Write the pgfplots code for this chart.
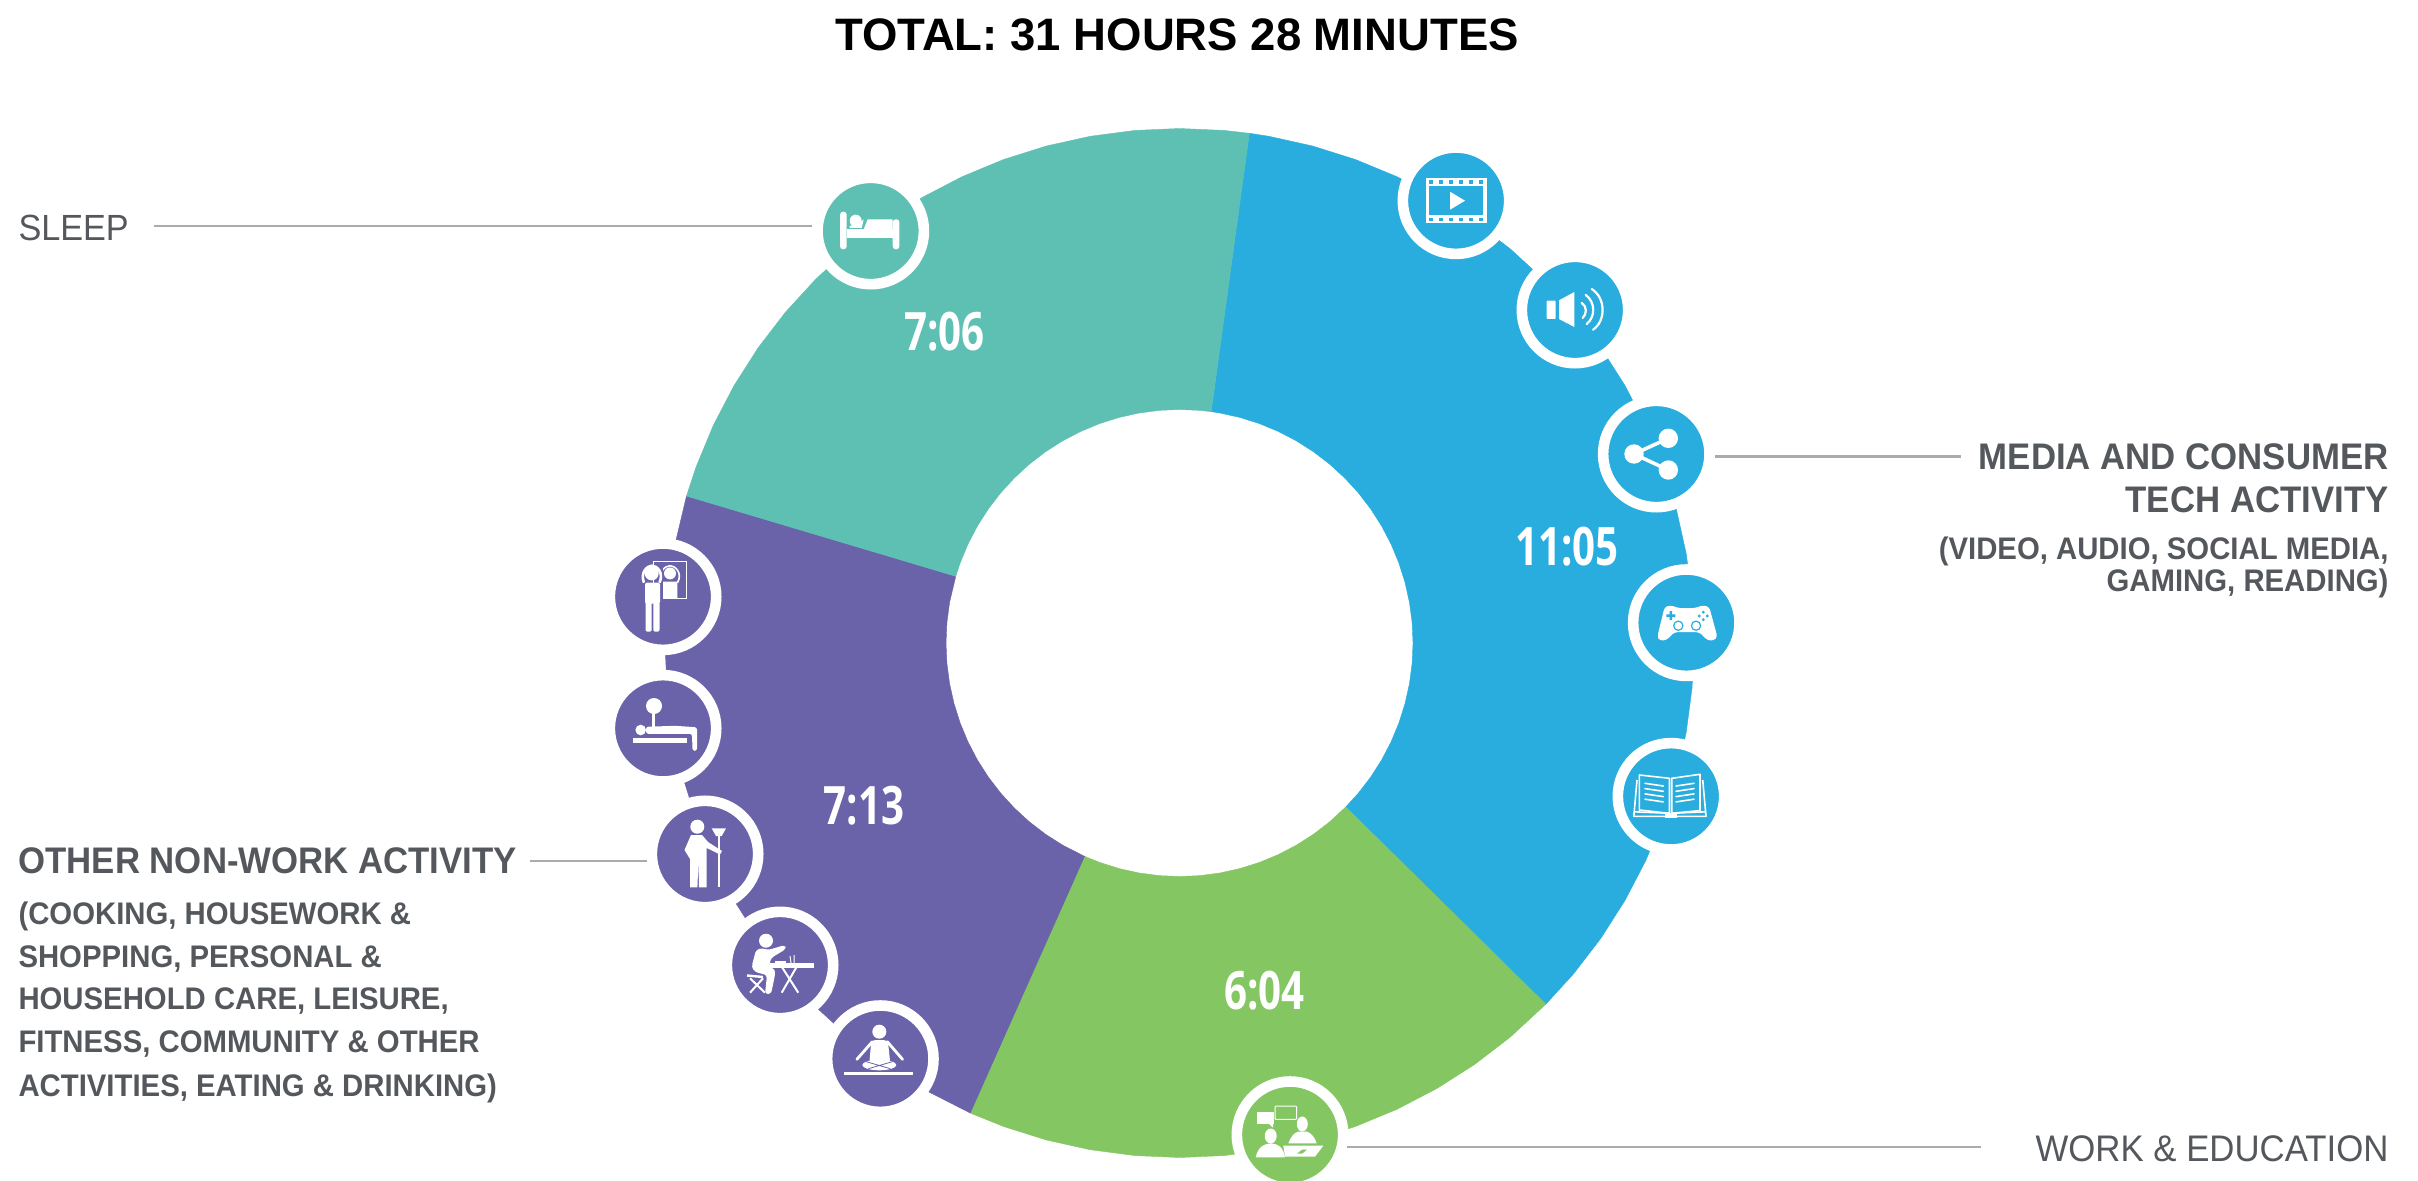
\documentclass[border=0pt]{standalone}
\usepackage{fontspec}
\usepackage{pgfplots}
\pgfplotsset{compat=1.18}
\setmainfont{Liberation Sans}
\newfontfamily\numf[FakeStretch=0.76]{Open Sans}
\newfontfamily\labf[FakeStretch=0.94]{Liberation Sans}
\definecolor{cmedia}{HTML}{29ADDE}
\definecolor{cwork}{HTML}{84C661}
\definecolor{cother}{HTML}{6A63A9}
\definecolor{csleep}{HTML}{5DC0B2}
\definecolor{ctext}{HTML}{54585C}
\definecolor{cline}{HTML}{ABABAB}
\newcommand{\ringplot}[2]{\addplot[only marks,mark=*,mark size=26.6pt,mark options={draw=white,fill=#1,line width=5.3pt}] coordinates {#2};}
\begin{document}
\begin{tikzpicture}
\useasboundingbox (0,0) rectangle (1209pt,590pt);
\clip (0,0) rectangle (1209pt,590pt);
\begin{axis}[at={(0,0)},anchor=south west,scale only axis,width=1209pt,height=590pt,
  hide axis,xmin=-1179.5,xmax=1238.5,ymin=-537,ymax=643,clip=false]
% media and consumer tech: 11:05
\addplot[data cs=polar,fill=cmedia,draw=cmedia,line width=.2pt,no markers] coordinates {
(82.2,514.5)(80,514.5)(75,514.5)(70,514.5)(65,514.5)(60,514.5)(55,514.5)(50,514.5)(45,514.5)(40,514.5)(35,514.5)(30,514.5)(25,514.5)(20,514.5)(15,514.5)(10,514.5)(5,514.5)(0,514.5)(-5,514.5)(-10,514.5)(-15,514.5)(-20,514.5)(-25,514.5)(-30,514.5)(-35,514.5)(-40,514.5)(-44.6,514.5)
(-44.6,233.5)(-40,233.5)(-35,233.5)(-30,233.5)(-25,233.5)(-20,233.5)(-15,233.5)(-10,233.5)(-5,233.5)(0,233.5)(5,233.5)(10,233.5)(15,233.5)(20,233.5)(25,233.5)(30,233.5)(35,233.5)(40,233.5)(45,233.5)(50,233.5)(55,233.5)(60,233.5)(65,233.5)(70,233.5)(75,233.5)(80,233.5)(82.2,233.5)} --cycle;
% work and education: 6:04
\addplot[data cs=polar,fill=cwork,draw=cwork,line width=.2pt,no markers] coordinates {
(-44.6,514.5)(-50,514.5)(-55,514.5)(-60,514.5)(-65,514.5)(-70,514.5)(-75,514.5)(-80,514.5)(-85,514.5)(-90,514.5)(-95,514.5)(-100,514.5)(-105,514.5)(-110,514.5)(-114,514.5)
(-114,233.5)(-110,233.5)(-105,233.5)(-100,233.5)(-95,233.5)(-90,233.5)(-85,233.5)(-80,233.5)(-75,233.5)(-70,233.5)(-65,233.5)(-60,233.5)(-55,233.5)(-50,233.5)(-44.6,233.5)} --cycle;
% other non-work: 7:13
\addplot[data cs=polar,fill=cother,draw=cother,line width=.2pt,no markers] coordinates {
(-114,514.5)(-120,514.5)(-125,514.5)(-130,514.5)(-135,514.5)(-140,514.5)(-145,514.5)(-150,514.5)(-155,514.5)(-160,514.5)(-165,514.5)(-170,514.5)(-175,514.5)(-180,514.5)(-185,514.5)(-190,514.5)(-196.6,514.5)
(-196.6,233.5)(-190,233.5)(-185,233.5)(-180,233.5)(-175,233.5)(-170,233.5)(-165,233.5)(-160,233.5)(-155,233.5)(-150,233.5)(-145,233.5)(-140,233.5)(-135,233.5)(-130,233.5)(-125,233.5)(-120,233.5)(-114,233.5)} --cycle;
% sleep: 7:06
\addplot[data cs=polar,fill=csleep,draw=csleep,line width=.2pt,no markers] coordinates {
(-196.6,514.5)(-200,514.5)(-205,514.5)(-210,514.5)(-215,514.5)(-220,514.5)(-225,514.5)(-230,514.5)(-235,514.5)(-240,514.5)(-245,514.5)(-250,514.5)(-255,514.5)(-260,514.5)(-265,514.5)(-270,514.5)(-275,514.5)(-277.8,514.5)
(-277.8,233.5)(-275,233.5)(-270,233.5)(-265,233.5)(-260,233.5)(-255,233.5)(-250,233.5)(-245,233.5)(-240,233.5)(-235,233.5)(-230,233.5)(-225,233.5)(-220,233.5)(-215,233.5)(-210,233.5)(-205,233.5)(-200,233.5)(-196.6,233.5)} --cycle;
\ringplot{cmedia}{(276.5,442.3)(395.5,333)(476.8,189)(506.8,20.3)(491.5,-153.3)}
\ringplot{cother}{(-516.5,46.3)(-516.5,-85.3)(-474.5,-211)(-399.5,-322)(-299.2,-415.7)}
\ringplot{cwork}{(110.5,-491.7)}
\ringplot{csleep}{(-308.8,412)}
\end{axis}
\begin{scope}[shift={(0,590pt)},x=.5pt,y=-.5pt,every node/.style={inner sep=0pt,outer sep=0pt}]
% leaders
\draw[cline,line width=1.4pt] (154,226)--(812,226);
\draw[cline,line width=1.4pt] (1715,456.5)--(1961,456.5);
\draw[cline,line width=1.4pt] (530,861)--(647,861);
\draw[cline,line width=1.4pt] (1347,1147)--(1981,1147);
% title
\node[anchor=base] at (1177,50.5) {\fontsize{22.75}{23}\selectfont\bfseries TOTAL: 31 HOURS 28 MINUTES};
% labels
\node[anchor=base west,text=ctext] at (18.5,241) {\fontsize{18.2}{18}\labf SLEEP};
\node[anchor=base east,text=ctext] at (2388.5,1161) {\fontsize{18.5}{18}\labf WORK \& EDUCATION};
\node[anchor=base east,text=ctext] at (2388.5,469) {\fontsize{18.5}{18}\labf\bfseries MEDIA AND CONSUMER};
\node[anchor=base east,text=ctext] at (2388.5,512) {\fontsize{18.5}{18}\labf\bfseries TECH ACTIVITY};
\node[anchor=base east,text=ctext] at (2388.5,559) {\fontsize{15.6}{18}\labf\bfseries (VIDEO, AUDIO, SOCIAL MEDIA,};
\node[anchor=base east,text=ctext] at (2388.5,591) {\fontsize{15.6}{18}\labf\bfseries GAMING, READING)};
\node[anchor=base west,text=ctext] at (18.5,873) {\fontsize{18.5}{18}\labf\bfseries OTHER NON-WORK ACTIVITY};
\node[anchor=base west,text=ctext] at (18.5,924) {\fontsize{15.6}{18}\labf\bfseries (COOKING, HOUSEWORK \&};
\node[anchor=base west,text=ctext] at (18.5,967) {\fontsize{15.6}{18}\labf\bfseries SHOPPING, PERSONAL \&};
\node[anchor=base west,text=ctext] at (18.5,1009) {\fontsize{15.6}{18}\labf\bfseries HOUSEHOLD CARE, LEISURE,};
\node[anchor=base west,text=ctext] at (18.5,1052) {\fontsize{15.6}{18}\labf\bfseries FITNESS, COMMUNITY \& OTHER};
\node[anchor=base west,text=ctext] at (18.5,1096) {\fontsize{15.6}{18}\labf\bfseries ACTIVITIES, EATING \& DRINKING)};
% numbers
\node[text=white] at (944.5,332) {\fontsize{26.5}{27}\numf\bfseries 7:06};
\node[text=white] at (1567,546.5) {\fontsize{26.5}{27}\numf\bfseries 11:05};
\node[text=white] at (864,805.5) {\fontsize{26.5}{27}\numf\bfseries 7:13};
\node[text=white] at (1264.5,990.5) {\fontsize{26.5}{27}\numf\bfseries 6:04};
% --- icons (pixel units, centre of each ring)
% video
\begin{scope}[shift={(1456,200.7)}]
\fill[white] (-30.5,-22.5) rectangle (30.5,22.5);
\fill[cmedia] (-27,-14.5) rectangle (27,14.5);
\foreach \x in {-25,-15,-5,5,15,25} {\fill[cmedia] (\x-2,-20.3) rectangle (\x+2,-17); \fill[cmedia] (\x-2,17) rectangle (\x+2,20.3);}
\fill[white] (-6,-9)--(9,0)--(-6,9)--cycle;
\end{scope}
% audio
\begin{scope}[shift={(1575,310)}]
\fill[white,rounded corners=.4pt] (-28.3,-9.3) rectangle (-19.3,9);
\fill[white] (-16,-9.7)--(-.7,-18)--(-.7,17)--(-16,9)--cycle;
\draw[white,line width=1.1pt,line cap=round] (6.7,-7) .. controls (12,-4) and (12,4) .. (7.7,8);
\draw[white,line width=1.1pt,line cap=round] (10.7,-15) .. controls (20.5,-8) and (20.5,7) .. (11.7,14);
\draw[white,line width=1.1pt,line cap=round] (16.7,-21) .. controls (31,-12) and (31,11) .. (18,19.7);
\end{scope}
% share
\begin{scope}[shift={(1656.3,454)}]
\draw[white,line width=1.8pt] (12,-15.7)--(-22.3,0)--(12,16);
\fill[white] (12,-15.7) circle[radius=9.7] (12,16) circle[radius=9.7] (-22.3,0) circle[radius=9.7];
\end{scope}
% gamepad
\begin{scope}[shift={(1686.3,622.7)}]
\fill[white,rounded corners=1.5pt] (-26.5,18)--(-29,14)--(-21.8,-15.5)--(-16.3,-17.5)--(-7,-14.5)--(8,-14.5)--(17,-17.5)--(23,-15.5)--(31,14)--(27.5,18)--(21,17.5)--(13,9.5)--(-12,9.5)--(-20,17.5)--cycle;
\fill[cmedia] (-16.8,-11.5) rectangle (-14.2,-2.5) (-20,-8.3) rectangle (-11,-5.7);
\fill[cmedia] (17,-10.5) circle[radius=1.6] (17,-3) circle[radius=1.6] (13,-6.7) circle[radius=1.6] (21,-6.7) circle[radius=1.6];
\draw[cmedia,line width=.6pt,fill=white] (-8,3) circle[radius=4.6] (9.7,3) circle[radius=4.6];
\end{scope}
% book
\begin{scope}[shift={(1671,796.3)},line join=round]
\draw[white,line width=.8pt] (-34,-16.3)--(-37.2,20)--(35,20)--(31.7,-16.3);
\draw[white,line width=.8pt] (-37,15.5)--(-1.7,17) (35,15.5)--(.7,17);
\draw[white,line width=.8pt] (-1.7,17)--(-1.7,-18)--(-31.7,-21.3)--(-31.7,13.7)--(-1.7,17) (.7,17)--(.7,-18)--(29,-22)--(29,14.3)--(.7,17);
\foreach \d in {0,5.3,10.6,15.9} {
\draw[white,line width=.8pt,line cap=round] (-26,-13+\d)--(-7.7,-10.3+\d) (5,-10.3+\d)--(23,-13+\d);}
\fill[white] (-6,17) rectangle (6,21.5);
\end{scope}
% mirror
\begin{scope}[shift={(663,596.7)}]
\draw[white,line width=.5pt] (-9.7,-35) rectangle (23,1.7);
\fill[white] (7,-23.3) circle[radius=6] (-.3,-15) rectangle (14.3,1.7);
\draw[white,line width=.8pt] (-.5,-14) .. controls (-6,-24) and (2,-31) .. (7,-31) .. controls (12,-31) and (20,-24) .. (14.5,-14);
\fill[cother] (-7,-33) rectangle (0,10);
\fill[white] (-11.3,-23.3) circle[radius=7];
\draw[white,line width=1.3pt] (-19,-14) .. controls (-23,-24) and (-16,-31) .. (-11,-31) .. controls (-6,-31) and (1,-24) .. (-3.5,-14);
\fill[white,rounded corners=1pt] (-18,-14) rectangle (-3,7);
\fill[white,rounded corners=1pt] (-17.5,5) rectangle (-11.3,35) (-9.7,5) rectangle (-3.5,35);
\end{scope}
% massage
\begin{scope}[shift={(663,728.3)}]
\fill[white] (-9,-22.3) circle[radius=8] (-22.3,1.7) circle[radius=5.3];
\fill[white] (-11.5,-16) rectangle (-8,2);
\fill[white,rounded corners=1.2pt] (-17,-1.5)--(12,-2.5)--(34,-1)--(34,22.5)--(29.5,22.5)--(29,5.5)--(-17,5.5)--cycle;
\fill[white] (-29.7,10) rectangle (23.7,14.3);
\end{scope}
% broom
\begin{scope}[shift={(705,854)}]
\fill[white] (-7.7,-27.3) circle[radius=7];
\fill[white] (-14,-19)--(-3,-19)--(3,-12)--(17,-3)--(15,.5)--(1.7,-6)--(1.7,33.3)--(-6,33.3)--(-6.6,8)--(-7.6,33.3)--(-15,33.3)--(-15,5)--(-20.5,-4)--cycle;
\fill[white] (13,-20) rectangle (15,32.7);
\fill[white] (6.7,-25.7)--(21,-25.7)--(16.7,-18)--(11,-18)--cycle;
\end{scope}
% eating
\begin{scope}[shift={(780,965)}]
\fill[white] (-14,-24.3) circle[radius=7];
\fill[white,rounded corners=1.5pt] (-28.5,2)--(-24,-15)--(-18,-17)--(-12,-15)--(5,-20)--(6,-16)--(-9,-7)--(-11,2)--(-5,4)--(-5,10)--(-9,29)--(-15,29)--(-13,10)--(-25,7)--cycle;
\fill[white] (-10,-1.7) rectangle (34.3,2.7);
\fill[white] (-5,-4) rectangle (6,-2);
\draw[white,line width=.5pt] (10,-9)--(11,-2) (14,-10)--(14,-2);
\draw[white,line width=1pt] (1.7,1.7)--(18.3,27.7) (16.7,1.7)--(1.7,27.7) (-30,13.3)--(-15,27.7) (-17,13.3)--(-30,27.7);
\draw[white,line width=1.2pt] (-33,10.5)--(-17,12);
\end{scope}
% yoga
\begin{scope}[shift={(880.3,1058.7)}]
\fill[white] (-1,-27) circle[radius=7];
\fill[white,rounded corners=2pt] (-9,-18.7)--(7.5,-18.7)--(10,5)--(-11,5)--cycle;
\draw[white,line width=1.4pt,line cap=round] (-8,-17)--(-23.5,.7) (7,-17)--(22.3,.7);
\fill[white] (-1,6.3) ellipse[x radius=17,y radius=5.3];
\draw[cother,line width=.4pt] (-14,3)--(10,10) (12,3)--(-12,10);
\fill[white] (-36,13) rectangle (33,16.3);
\end{scope}
% work
\begin{scope}[shift={(1290,1134.7)}]
\fill[white] (-32.7,-23) rectangle (-16,-10.7);
\fill[white] (-21,-10.7)--(-17,-10.7)--(-17,-7)--cycle;
\draw[white,line width=.5pt,rounded corners=.5pt] (-15,-28.7) rectangle (6.7,-15.3);
\fill[white] (-19.3,1.3) ellipse[x radius=6,y radius=7.5];
\fill[white] (-34.3,22.7) .. controls (-32,12) and (-26,9) .. (-19.3,8.7) .. controls (-12,9) and (-7,12) .. (-5,22.7)--cycle;
\fill[white] (12.3,-10.7) ellipse[x radius=5.5,y radius=7.5];
\fill[white] (-1.7,8.7) .. controls (0,3) and (4,-2) .. (8,-3)--(17,-3) .. controls (21,-2) and (25,3) .. (26.7,8.7)--cycle;
\fill[white] (-6.7,11)--(33.3,11)--(25,22)--(-5,22)--cycle;
\fill[cwork] (7,19)--(12,15)--(17,15)--(12,19)--cycle;
\end{scope}
% sleep
\begin{scope}[shift={(870.7,231)}]
\fill[white,rounded corners=1.5pt] (-30.7,-19.3) rectangle (-24,18.3) (22,-11.7) rectangle (28.7,18.3);
\fill[white] (-24,-1.7) rectangle (22,7.3);
\fill[white] (-15,-10.3) circle[radius=6];
\fill[white] (-3,-11.7)--(22,-11.7)--(22,-1.7)--(-7,-1.7)--cycle;
\fill[white] (-21,-5)--(-10,-9)--(-7,-11.5)--(-9,-3)--(-21,-3)--cycle;
\end{scope}
\end{scope}
\end{tikzpicture}
\end{document}
